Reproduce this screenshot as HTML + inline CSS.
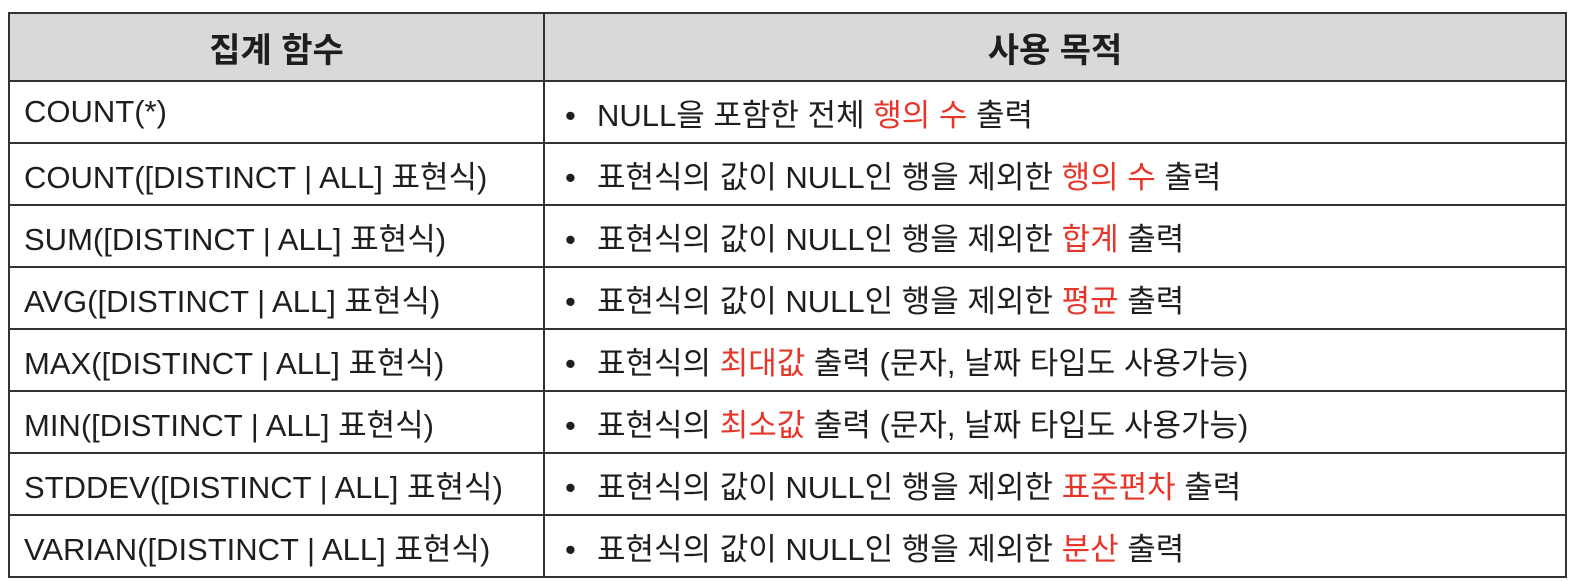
<!DOCTYPE html>
<html><head><meta charset="utf-8"><style>
body{margin:0;width:1572px;height:581px;background:#fff;overflow:hidden;font-family:"Liberation Sans","Noto Sans CJK KR",sans-serif;color:#1e1e1e}
table{position:absolute;left:8px;top:12px;border-collapse:collapse;width:1559px}
td,th{border:2px solid #333;height:60px;font-size:31px;padding:0;white-space:nowrap}
th{background:#d9d9d9;font-size:34px;height:66px;font-weight:bold}
td.f{padding-left:14px;width:519px}
td.d{padding-left:20px}
.b{display:inline-block;width:32px}
.r{color:#e8352a}
</style></head><body>
<table>
<tr><th>집계 함수</th><th>사용 목적</th></tr>
<tr><td class="f">COUNT(*)</td><td class="d"><span class="b">•</span>NULL을 포함한 전체 <span class="r">행의 수</span> 출력</td></tr>
<tr><td class="f">COUNT([DISTINCT | ALL] 표현식)</td><td class="d"><span class="b">•</span>표현식의 값이 NULL인 행을 제외한 <span class="r">행의 수</span> 출력</td></tr>
<tr><td class="f">SUM([DISTINCT | ALL] 표현식)</td><td class="d"><span class="b">•</span>표현식의 값이 NULL인 행을 제외한 <span class="r">합계</span> 출력</td></tr>
<tr><td class="f">AVG([DISTINCT | ALL] 표현식)</td><td class="d"><span class="b">•</span>표현식의 값이 NULL인 행을 제외한 <span class="r">평균</span> 출력</td></tr>
<tr><td class="f">MAX([DISTINCT | ALL] 표현식)</td><td class="d"><span class="b">•</span>표현식의 <span class="r">최대값</span> 출력 (문자, 날짜 타입도 사용가능)</td></tr>
<tr><td class="f">MIN([DISTINCT | ALL] 표현식)</td><td class="d"><span class="b">•</span>표현식의 <span class="r">최소값</span> 출력 (문자, 날짜 타입도 사용가능)</td></tr>
<tr><td class="f">STDDEV([DISTINCT | ALL] 표현식)</td><td class="d"><span class="b">•</span>표현식의 값이 NULL인 행을 제외한 <span class="r">표준편차</span> 출력</td></tr>
<tr><td class="f">VARIAN([DISTINCT | ALL] 표현식)</td><td class="d"><span class="b">•</span>표현식의 값이 NULL인 행을 제외한 <span class="r">분산</span> 출력</td></tr>
</table>
</body></html>
